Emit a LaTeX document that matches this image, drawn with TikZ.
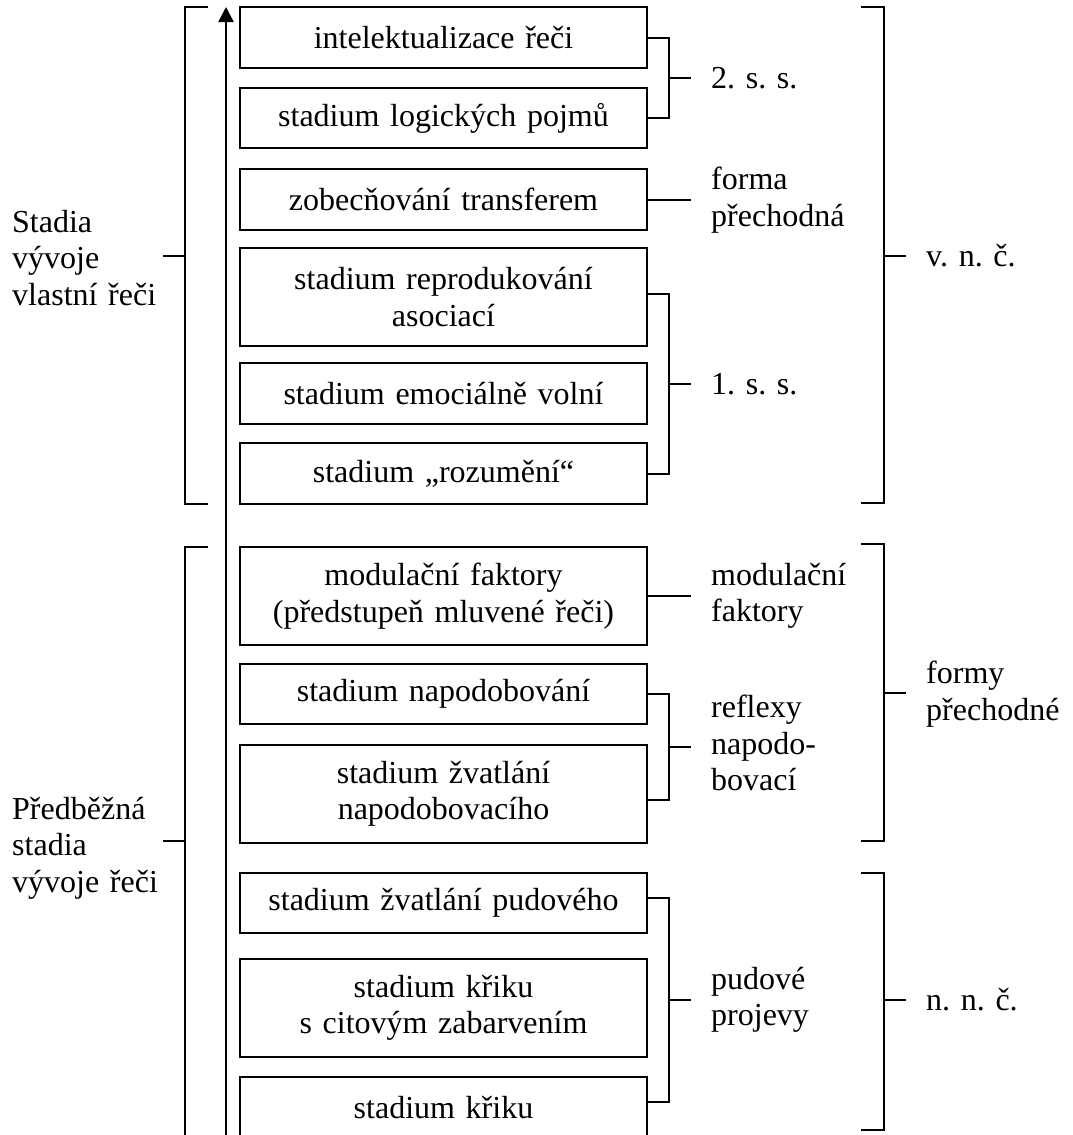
\documentclass[tikz,border=0pt]{standalone}
\usepackage{fontspec}
\setmainfont{Liberation Serif}
\usetikzlibrary{arrows.meta,calc}
\begin{document}
\begin{tikzpicture}[x=1pt,y=-1pt,
  every node/.style={font=\fontsize{32}{36.5}\selectfont},
  box/.style={draw,line width=2pt,minimum width=407pt,inner sep=0pt,align=center,text width=405pt},
  lab/.style={anchor=west,inner xsep=20pt,inner ysep=0pt,align=left},
  leftlab/.style={anchor=west,inner sep=0pt,text width=151pt,align=left},
  conn/.style={line width=2pt}
]
\useasboundingbox (0,0) rectangle (1073,1135);

% boxes
\node[box,minimum height=61pt] (b1) at (443.5,37.5) {intelektualizace řeči};
\node[box,minimum height=60pt] (b2) at (443.5,118) {stadium logických pojmů};
\node[box,minimum height=61pt] (b3) at (443.5,199.5) {zobecňování transferem};
\node[box,minimum height=98pt] (b4) at (443.5,297) {stadium reprodukování\\asociací};
\node[box,minimum height=61pt] (b5) at (443.5,393.5) {stadium emociálně volní};
\node[box,minimum height=61pt] (b6) at (443.5,473.5) {stadium „rozumění“};
\node[box,minimum height=98pt] (b7) at (443.5,596) {modulační faktory\\(předstupeň mluvené řeči)};
\node[box,minimum height=60pt] (b8) at (443.5,694) {stadium napodobování};
\node[box,minimum height=98pt] (b9) at (443.5,794) {stadium žvatlání\\napodobovacího};
\node[box,minimum height=60pt] (b10) at (443.5,903) {stadium žvatlání pudového};
\node[box,minimum height=98pt] (b11) at (443.5,1008) {stadium křiku\\s citovým zabarvením};
\node[box,minimum height=62pt] (b12) at (443.5,1108) {stadium křiku};

% arrow
\coordinate (arrB) at (226,1140);
\coordinate (arrT) at (226,7);
\draw[line width=2.4pt,-{Triangle[length=15pt,width=15pt]}] (arrB) -- (arrT);

% middle labels
\node[lab] (l1) at (691,78) {2. s. s.};
\node[lab] (l2) at (691,200) {forma\\přechodná};
\node[lab] (l3) at (691,384) {1. s. s.};
\node[lab] (l4) at (691,596) {modulační\\faktory};
\node[lab] (l5) at (691,743) {reflexy\\napodo-\\bovací};
\node[lab] (l6) at (691,1000) {pudové\\projevy};

% right labels
\node[lab] (r1) at (906,256) {v. n. č.};
\node[lab] (r2) at (906,694) {formy\\přechodné};
\node[lab] (r3) at (906,1000) {n. n. č.};

% left labels
\node[leftlab] (L1) at (12,258) {Stadia\\vývoje\\vlastní řeči};
\node[leftlab] (L2) at (12,848) {Předběžná\\stadia\\vývoje řeči};

% junction coordinates
\coordinate (j1) at (669,78);
\coordinate (j3) at (669,384);
\coordinate (j5) at (669,747);
\coordinate (j6) at (669,1000);
\coordinate (y294) at (0,294);
\coordinate (y800) at (0,800);
\coordinate (y898) at (0,898);
\coordinate (y1102) at (0,1102);

% middle connectors
\draw[conn] (b1.east) -| (j1) |- (b2.east);
\draw[conn] (j1) -- (l1.west);
\draw[conn] (b3.east) -- (l2.west |- b3.east);
\draw[conn] (b4.east |- y294) -| (j3) |- (b6.east);
\draw[conn] (j3) -- (l3.west);
\draw[conn] (b7.east) -- (l4.west |- b7.east);
\draw[conn] (b8.east) -| (j5) |- (b9.east |- y800);
\draw[conn] (j5) -- (l5.west |- j5);
\draw[conn] (b10.east |- y898) -| (j6) |- (b12.east |- y1102);
\draw[conn] (j6) -- (l6.west);

% right brackets
\coordinate (R1) at (884,256);
\coordinate (R2) at (884,693);
\coordinate (R3) at (884,1000);
\draw[conn] (861,7) -- (884,7) -- (884,503) -- (861,503);
\draw[conn] (R1) -- (r1.west |- R1);
\draw[conn] (861,544) -- (884,544) -- (884,841) -- (861,841);
\draw[conn] (R2) -- (r2.west |- R2);
\draw[conn] (861,873) -- (884,873) -- (884,1130) -- (861,1130);
\draw[conn] (R3) -- (r3.west |- R3);

% left brackets
\coordinate (Lb1) at (185,256);
\coordinate (Lb2) at (185,841);
\draw[conn] (208,7) -- (185,7) -- (185,504) -- (208,504);
\draw[conn] (163,256) -- (Lb1);
\draw[conn] (208,547) -- (185,547) -- (185,1140);
\draw[conn] (163,841) -- (Lb2);
\end{tikzpicture}
\end{document}
